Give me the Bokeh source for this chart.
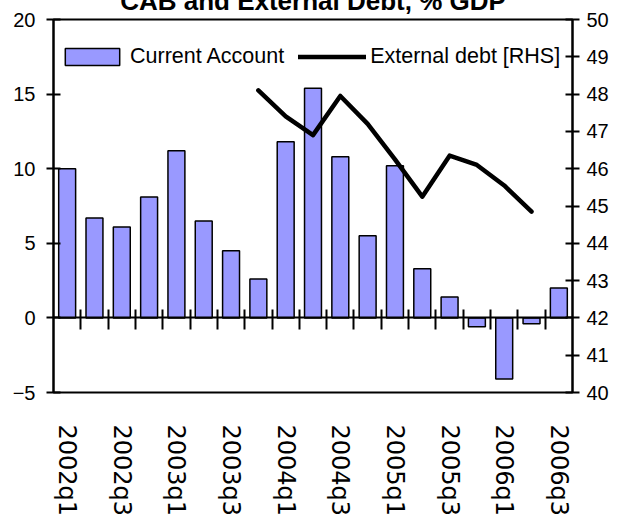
import numpy as np
from bokeh.plotting import figure
from bokeh.models import (Range1d, LinearAxis, FixedTicker, Legend)
from bokeh.embed import file_html
from bokeh.resources import INLINE

quarters = ["2002q1", "2002q2", "2002q3", "2002q4", "2003q1", "2003q2", "2003q3",
            "2003q4", "2004q1", "2004q2", "2004q3", "2004q4", "2005q1", "2005q2",
            "2005q3", "2005q4", "2006q1", "2006q2", "2006q3"]
current_account = [10.0, 6.7, 6.1, 8.1, 11.2, 6.5, 4.5, 2.6, 11.8, 15.4, 10.8,
                   5.5, 10.2, 3.3, 1.4, -0.6, -4.1, -0.4, 2.0]
external_debt = [None, None, None, None, None, None, None,
                 48.1, 47.4, 46.9, 47.95, 47.2, 46.25, 45.25, 46.35, 46.1,
                 45.55, 44.85, None]
left_ticks = [-5, 0, 5, 10, 15, 20]
right_ticks = [40, 41, 42, 43, 44, 45, 46, 47, 48, 49, 50]
title_text = "CAB and External Debt, % GDP"

FONT = "Liberation Sans"
K = 30
n = len(quarters)
xs = np.arange(n) + 0.5
debt = np.array([np.nan if v is None else v for v in external_debt], dtype=float)

p = figure(width=621, height=524 + K, x_range=Range1d(0, n), y_range=Range1d(-5, 20),
           x_axis_type=None, y_axis_type=None, output_backend="svg",
           toolbar_location=None, min_border_left=53, min_border_right=49,
           min_border_top=19 + K, min_border_bottom=132, title=title_text)
p.styles = {"margin-top": f"-{K}px"}
p.title.text_font = FONT
p.title.text_font_style = "bold"
p.title.text_font_size = "26px"
p.title.align = "center"
p.title.offset = 8
p.title.standoff = 7
p.title.text_color = "black"
p.extra_y_ranges = {"rhs": Range1d(40, 50)}
p.grid.visible = False
p.outline_line_color = "black"
p.outline_line_width = 2
p.background_fill_color = "white"
p.border_fill_color = "white"

bars = p.vbar(x=xs, top=current_account, bottom=0, width=0.62,
              fill_color="#9999FF", line_color="black", line_width=1.5)
line = p.line(x=xs, y=debt, y_range_name="rhs", line_color="black",
              line_width=4.5, line_join="round", line_cap="round")

la = LinearAxis(ticker=FixedTicker(ticks=left_ticks))
ra = LinearAxis(y_range_name="rhs", ticker=FixedTicker(ticks=right_ticks))
for ax, st in ((la, 11), (ra, 7)):
    ax.axis_line_width = 2
    ax.axis_line_color = "black"
    ax.major_tick_in = 7
    ax.major_tick_out = 7
    ax.major_tick_line_width = 2
    ax.minor_tick_line_color = None
    ax.major_label_text_font = FONT
    ax.major_label_text_font_size = "20px"
    ax.major_label_text_color = "black"
    ax.major_label_standoff = st
p.add_layout(la, "left")
p.add_layout(ra, "right")

label_ticks = [float(x) for i, x in enumerate(xs) if i % 2 == 0]
ba = LinearAxis(ticker=FixedTicker(ticks=label_ticks),
                major_label_overrides={float(x): quarters[i] for i, x in enumerate(xs) if i % 2 == 0})
ba.axis_line_color = None
ba.major_tick_line_color = None
ba.major_tick_in = 0
ba.major_tick_out = 0
ba.minor_tick_line_color = None
ba.major_label_orientation = "vertical"
ba.major_label_standoff = 32
ba.major_label_text_font = "DejaVu Sans"
ba.major_label_text_font_size = "24px"
ba.major_label_text_color = "black"
p.add_layout(ba, "below")

za = LinearAxis(ticker=FixedTicker(ticks=list(range(1, n))), fixed_location=0)
za.axis_line_width = 2
za.axis_line_color = "black"
za.major_tick_in = 8
za.major_tick_out = 12
za.major_tick_line_width = 2
za.minor_tick_line_color = None
za.major_label_text_font_size = "0px"
za.major_label_text_color = None
p.add_layout(za, "below")

legend = Legend(items=[("Current Account", [bars]), ("External debt [RHS]", [line])],
                orientation="horizontal", location=(5, 323))
legend.background_fill_color = "white"
legend.background_fill_alpha = 1.0
legend.border_line_color = None
legend.label_text_font = FONT
legend.label_text_font_size = "21.5px"
legend.label_text_color = "black"
legend.glyph_width = 68
legend.glyph_height = 21
legend.label_height = 21
legend.label_standoff = 4
legend.spacing = 14
legend.padding = 5
legend.margin = 0
p.add_layout(legend, "center")

open("out.html", "w").write(file_html(p, INLINE))
